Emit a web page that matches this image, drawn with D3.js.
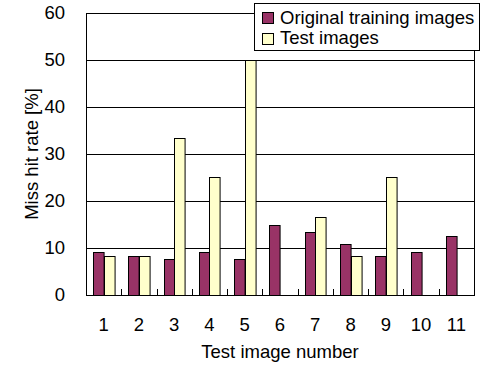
<!DOCTYPE html>
<html>
<head>
<meta charset="utf-8">
<script src="https://cdn.jsdelivr.net/npm/d3@7"></script>
<style>
  html, body { margin: 0; padding: 0; background: #fff; }
  svg { display: block; }
</style>
</head>
<body>
<svg id="chart" width="482" height="372"></svg>
<script>
const categories = ['1', '2', '3', '4', '5', '6', '7', '8', '9', '10', '11'];
const seriesNames = ['Original training images', 'Test images'];
const originalValues = [9.2, 8.4, 7.6, 9.2, 7.6, 14.9, 13.3, 10.9, 8.4, 9.1, 12.5];
const testValues = [8.4, 8.4, 33.3, 25.0, 50.0, 0, 16.5, 8.4, 25.0, 0, 0];
const yTicks = [0, 10, 20, 30, 40, 50, 60];

const colors = ['#993366', '#FFFFCC'];
const font = '"Liberation Sans", Arial, sans-serif';
const fs = 18.5;

const svg = d3.select('#chart');
const plotL = 86, plotR = 474, plotT = 13, plotB = 295;

const x = d3.scaleBand().domain(categories).range([plotL, plotR])
    .paddingInner(0.4).paddingOuter(0.2);
const xSub = d3.scaleBand().domain([0, 1]).range([0, x.bandwidth()]);
const y = d3.scaleLinear().domain([0, 60]).range([plotB, plotT]);

// gridlines
svg.append('g').selectAll('line').data(yTicks.filter(t => t > 0)).enter().append('line')
    .attr('x1', plotL).attr('x2', plotR)
    .attr('y1', d => Math.round(y(d)) + 0.5).attr('y2', d => Math.round(y(d)) + 0.5)
    .attr('stroke', '#000').attr('stroke-width', 1);

// plot border (left, right)
svg.append('line').attr('x1', plotL + 0.5).attr('x2', plotL + 0.5)
    .attr('y1', plotT).attr('y2', plotB).attr('stroke', '#000');
svg.append('line').attr('x1', plotR + 0.5).attr('x2', plotR + 0.5)
    .attr('y1', plotT).attr('y2', plotB).attr('stroke', '#000');

// bars
const series = [originalValues, testValues];
series.forEach((vals, si) => {
    svg.append('g').selectAll('rect').data(vals.map((v, i) => ({ v, c: categories[i] })).filter(d => d.v > 0))
        .enter().append('rect')
        .attr('x', d => Math.round(x(d.c) + xSub(si)) + 0.5)
        .attr('y', d => Math.round(y(d.v)) + 0.5)
        .attr('width', xSub.bandwidth())
        .attr('height', d => plotB - Math.round(y(d.v)))
        .attr('fill', colors[si])
        .attr('stroke', '#000').attr('stroke-width', 1);
});

// x axis line and inside ticks between categories
svg.append('line').attr('x1', plotL).attr('x2', plotR + 1)
    .attr('y1', plotB + 0.5).attr('y2', plotB + 0.5).attr('stroke', '#000');
const step = x.step();
svg.append('g').selectAll('line').data(d3.range(1, categories.length)).enter().append('line')
    .attr('x1', i => Math.round(plotL + i * step) + 0.5).attr('x2', i => Math.round(plotL + i * step) + 0.5)
    .attr('y1', plotB - 6).attr('y2', plotB).attr('stroke', '#000');

// y tick labels
svg.append('g').selectAll('text').data(yTicks).enter().append('text')
    .attr('x', 65).attr('y', d => y(d)).attr('dy', '0.35em')
    .attr('text-anchor', 'end').attr('font-family', font).attr('font-size', fs)
    .text(d => d);

// x tick labels
svg.append('g').selectAll('text').data(categories).enter().append('text')
    .attr('x', d => x(d) + x.bandwidth() / 2).attr('y', 331)
    .attr('text-anchor', 'middle').attr('font-family', font).attr('font-size', fs)
    .text(d => d);

// axis titles
svg.append('text').attr('x', (plotL + plotR) / 2).attr('y', 358)
    .attr('text-anchor', 'middle').attr('font-family', font).attr('font-size', fs)
    .text('Test image number');
svg.append('text').attr('transform', `translate(38,${(plotT + plotB) / 2}) rotate(-90)`)
    .attr('text-anchor', 'middle').attr('font-family', font).attr('font-size', fs)
    .text('Miss hit rate [%]');

// top border of plot (drawn under legend)
svg.append('line').attr('x1', plotL).attr('x2', plotR + 1)
    .attr('y1', plotT + 0.5).attr('y2', plotT + 0.5).attr('stroke', '#000');

// legend
const lg = svg.append('g');
lg.append('rect').attr('x', 254.5).attr('y', 3.5).attr('width', 225).attr('height', 47)
    .attr('fill', '#fff').attr('stroke', '#000');
seriesNames.forEach((name, i) => {
    lg.append('rect').attr('x', 262.5).attr('y', 12.5 + i * 21).attr('width', 11).attr('height', 11)
        .attr('fill', colors[i]).attr('stroke', '#000');
    lg.append('text').attr('x', 280).attr('y', 24 + i * 20)
        .attr('font-family', font).attr('font-size', fs).text(name);
});
</script>
</body>
</html>
